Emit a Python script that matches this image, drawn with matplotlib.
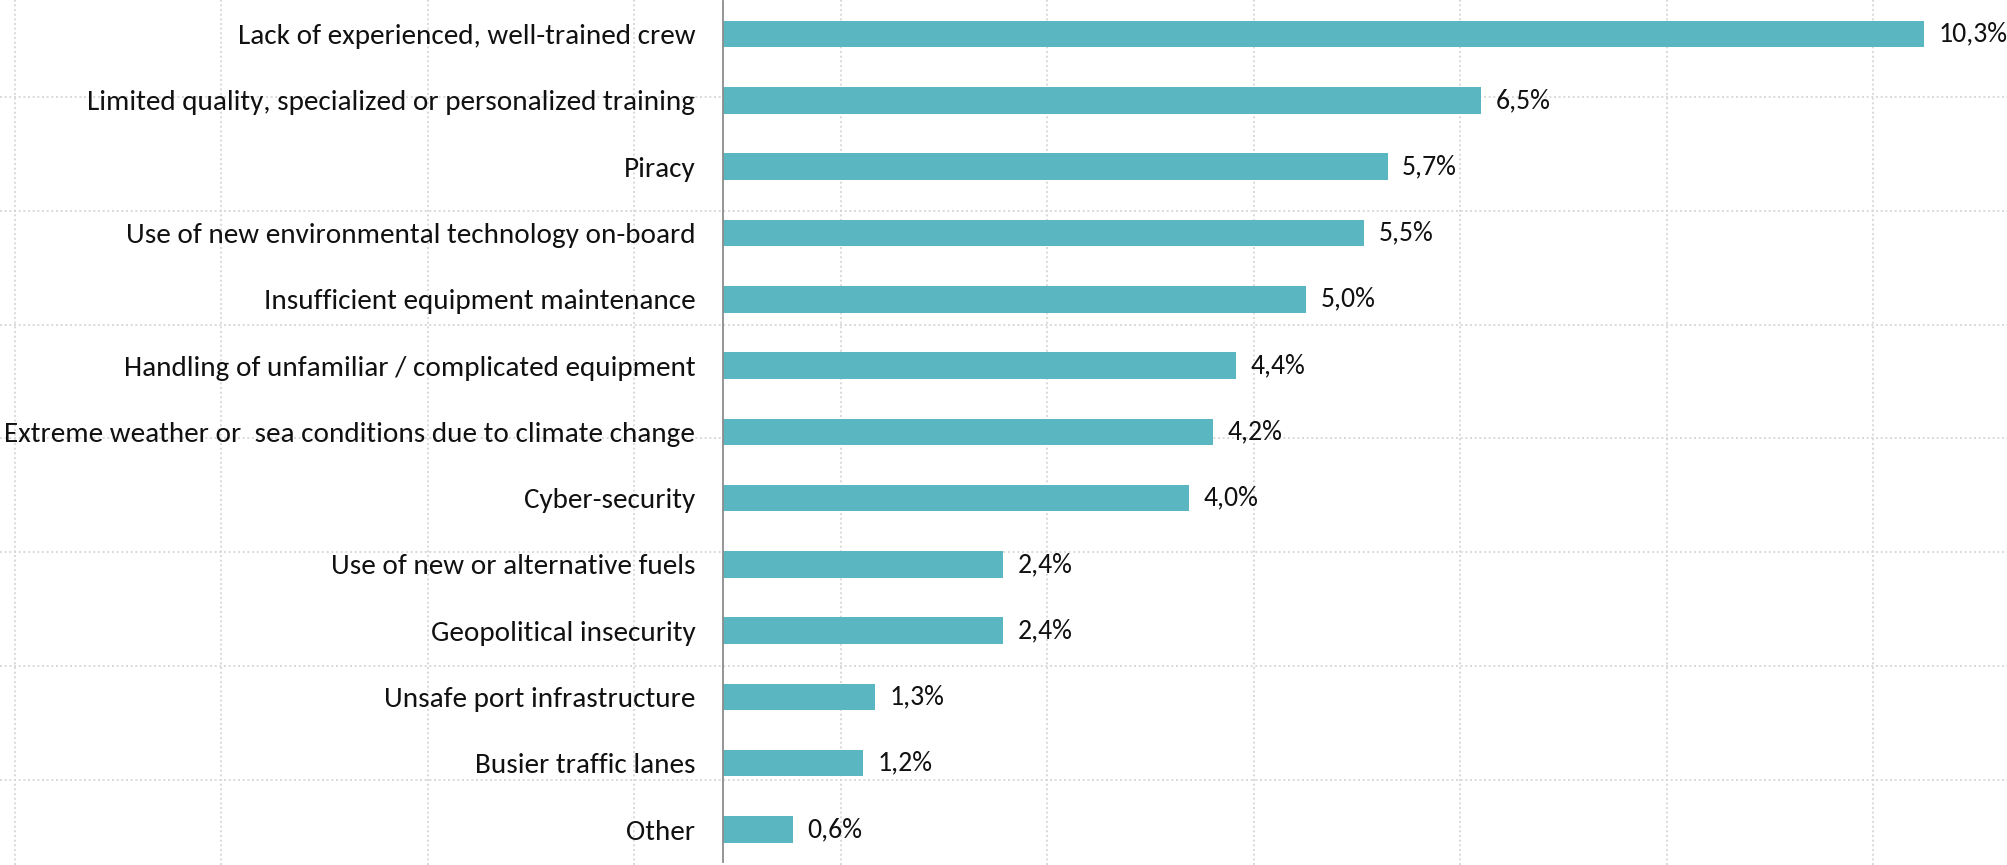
import matplotlib
matplotlib.use("Agg")
import matplotlib.pyplot as plt
import numpy as np

# Survey answers, top to bottom, share of respondents (%)
categories = [
    "Lack of experienced, well-trained crew",
    "Limited quality, specialized or personalized training",
    "Piracy",
    "Use of new environmental technology on-board",
    "Insufficient equipment maintenance",
    "Handling of unfamiliar / complicated equipment",
    "Extreme weather or  sea conditions due to climate change",
    "Cyber-security",
    "Use of new or alternative fuels",
    "Geopolitical insecurity",
    "Unsafe port infrastructure",
    "Busier traffic lanes",
    "Other",
]
values = [10.3, 6.5, 5.7, 5.5, 5.0, 4.4, 4.2, 4.0, 2.4, 2.4, 1.3, 1.2, 0.6]

BAR_COLOR = "#5AB6C1"
GRID_COLOR = "#d4d4d4"
W, H = 2008, 865

plt.rcParams["font.family"] = ["Carlito", "DejaVu Sans"]

fig = plt.figure(figsize=(W / 100, H / 100), dpi=100)

# ─── Background dotted grid (slide decoration, not tied to data) ───
bg = fig.add_axes([0, 0, 1, 1], zorder=0)
bg.set_xlim(0, W)
bg.set_ylim(H, 0)
bg.axis("off")
for gx in np.arange(15, W, 206.5):
    bg.axvline(gx, color=GRID_COLOR, lw=1.2, ls=(0, (1.2, 1.6)))
for gy in np.arange(97, H, 113.8):
    bg.axhline(gy, color=GRID_COLOR, lw=1.2, ls=(0, (1.2, 1.6)))

# ─── Bar chart ───
left = 723 / W
ax = fig.add_axes([left, 3 / H, 1 - left, 861 / H], zorder=1)
ax.patch.set_alpha(0)
y = np.arange(len(categories))
ax.barh(y, values, height=0.40, color=BAR_COLOR)

for yi, v in zip(y, values):
    ax.annotate(f"{v:.1f}".replace(".", ",") + "%", (v, yi),
                xytext=(10.5, 0), textcoords="offset points",
                va="center", ha="left", fontsize=20, color="#111111")

ax.set_yticks(y)
ax.set_yticklabels(categories, fontsize=21, color="#111111")
ax.tick_params(axis="y", length=0, pad=20)
ax.set_xticks([])
ax.set_xlim(0, (W - 723) / 116.6)
ax.set_ylim(12.49, -0.5)

for side in ("top", "right", "bottom"):
    ax.spines[side].set_visible(False)
ax.spines["left"].set_color("#8c8c8c")
ax.spines["left"].set_linewidth(1.3)

fig.savefig("out.png", dpi=100)
plt.close(fig)
